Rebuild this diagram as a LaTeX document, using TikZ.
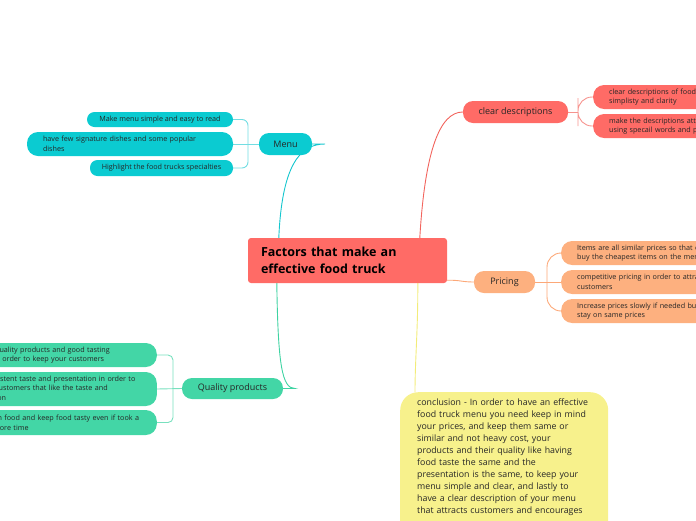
\documentclass[tikz,border=0pt]{standalone}
\usepackage{fontspec}
\setmainfont{Open Sans}
\usetikzlibrary{backgrounds}
\definecolor{hubred}{HTML}{FF6B66}
\definecolor{redline}{HTML}{F2645D}
\definecolor{menuteal}{HTML}{0BCBD1}
\definecolor{tealline}{HTML}{14C6CE}
\definecolor{priceorange}{HTML}{FDB07F}
\definecolor{orangeline}{HTML}{FCA878}
\definecolor{qualgreen}{HTML}{43D6A6}
\definecolor{greenline}{HTML}{3ED3A2}
\definecolor{concyellow}{HTML}{F7F18C}
\definecolor{yellowline}{HTML}{F3EC7A}
\tikzset{
  hub/.style={fill=hubred, rounded corners=3pt, align=left, text width=173pt,
    inner xsep=13pt, minimum height=45pt, font=\bfseries\fontsize{12.5}{17.5}\selectfont},
  topic/.style={rounded corners=10pt, minimum height=22pt, inner sep=0pt,
    font=\fontsize{9}{11}\selectfont, text=black!85},
  leaf/.style={rounded corners=11pt, inner xsep=16pt, inner ysep=0pt, align=left,
    minimum height=24pt, font=\fontsize{7.2}{9.6}\selectfont, text=black!85},
  chip/.style={rounded corners=7.5pt, inner sep=0pt, minimum height=15pt,
    font=\fontsize{7.2}{9.6}\selectfont, text=black!85},
  concl/.style={fill=concyellow, rounded corners=18pt, align=left, text width=174pt,
    inner xsep=17pt, inner ysep=7pt, text depth=150pt,
    font=\hyphenpenalty10000\relax\fontsize{8.8}{11.9}\selectfont, text=black!85},
  link/.style={line width=0.9pt},
}
\begin{document}
\begin{tikzpicture}[x=1pt,y=-1pt]
  \useasboundingbox (0,0) rectangle (696,520);
  \clip (0,0) rectangle (696,520);

  \node[hub] (hub) at (347.5,260.5) {Factors that make an\\effective food truck};

  % main branches
  \node[topic, fill=menuteal, minimum width=53pt] (menu) at (285.5,144) {Menu};
  \node[topic, fill=hubred, minimum width=105pt] (clear) at (515.5,112) {clear descriptions};
  \node[topic, fill=priceorange, minimum width=61pt] (pricing) at (504.5,282) {Pricing};
  \node[topic, fill=qualgreen, minimum width=101pt, minimum height=21pt] (qual) at (232.5,388.5) {Quality products};
  \node[concl, anchor=north west] (concl) at (400,392) {conclusion - In order to have an effective\\
    food truck menu you need keep in mind\\
    your prices, and keep them same or\\
    similar and not heavy cost, your\\
    products and their quality like having\\
    food taste the same and the\\
    presentation is the same, to keep your\\
    menu simple and clear, and lastly to\\
    have a clear description of your menu\\
    that attracts customers and encourages};

  % menu leaves
  \node[chip, fill=menuteal, minimum width=146pt] (m1) at (160,119.5) {Make menu simple and easy to read};
  \node[leaf, fill=menuteal, text width=174pt] (m2) at (130,144) {have few signature dishes and some popular\\dishes};
  \node[chip, fill=menuteal, minimum width=143pt, minimum height=16pt] (m3) at (161.5,168) {Highlight the food trucks specialties};

  % clear description leaves
  \node[leaf, fill=hubred, text width=168pt, anchor=west] (c1) at (593,97) {clear descriptions of food with\\simplisty and clarity};
  \node[leaf, fill=hubred, text width=168pt, anchor=west] (c2) at (593,126) {make the descriptions attractive by\\using specail words and phrases};

  % pricing leaves
  \foreach \t [count=\i] in {{Items are all similar prices so that customers don't\\buy the cheapest items on the menu},
      {competitive pricing in order to attract more\\customers},
      {Increase prices slowly if needed but try to\\stay on same prices}}{%
    \node[leaf, fill=priceorange, text width=200pt, anchor=west] (p\i) at (561,{253+(\i-1)*29}) {\t};
  }

  % quality leaves
  \node[leaf, fill=qualgreen, text width=165pt, anchor=east] (q1) at (157,355) {\mbox{Have quality products and good tasting}\\\mbox{food in order to keep your customers}};
  \node[leaf, fill=qualgreen, text width=177.5pt, anchor=east, minimum height=34pt] (q2) at (157,389) {\mbox{Have consistent taste and presentation in order to}\\\mbox{keep the customers  that like the taste and}\\presentation};
  \node[leaf, fill=qualgreen, text width=171pt, anchor=east, minimum height=25pt] (q3) at (157,422.5) {\mbox{Use fresh food and keep food tasty even if took a}\\\mbox{a little more time}};

  \coordinate (mt) at (325,144);
  \coordinate (mj) at (248,144);
  \coordinate (cj) at (578,112);
  \coordinate (pj) at (547,282);
  \coordinate (qj) at (295,388.5);
  \coordinate (qb) at (173,388.5);

  \begin{scope}[on background layer]
    \draw[link, tealline] ([xshift=31pt]hub.north west) .. controls (282,165) and (300,144) .. (mt) -- (menu.east);
    \draw[link, redline] ([xshift=172pt]hub.north west) .. controls (425,150) and (440,112) .. (clear.west);
    \draw[link, orangeline] ([yshift=3pt]hub.south east) .. controls (460,280) and (462,282) .. (pricing.west);
    \draw[link, greenline] ([xshift=29pt]hub.south west) .. controls (278,365) and (282,388.5) .. (qj) -- (qual.east);
    \draw[link, yellowline] ([xshift=170pt]hub.south west) .. controls (418,330) and (415,360) .. ([xshift=15pt]concl.north west);

    \draw[link, tealline!60, rounded corners=6pt] (m1.east) -| (mj) |- (m3.east);
    \draw[link, tealline!60] (m2.east) -- (menu.west);
    \draw[link, redline!70, rounded corners=14pt] (c1.west) -| (cj) |- (c2.west);
    \draw[link, redline!70] (clear.east) -- (cj);
    \draw[link, orangeline, rounded corners=14pt] (p1.west) -| (pj) |- (p3.west);
    \draw[link, orangeline] (pricing.east) -- (p2.west);
    \draw[link, greenline!70, rounded corners=5pt] (q1.east) -| (qb) |- (q3.east);
    \draw[link, greenline!70] (q2.east) -- (qual.west);
  \end{scope}
\end{tikzpicture}
\end{document}
